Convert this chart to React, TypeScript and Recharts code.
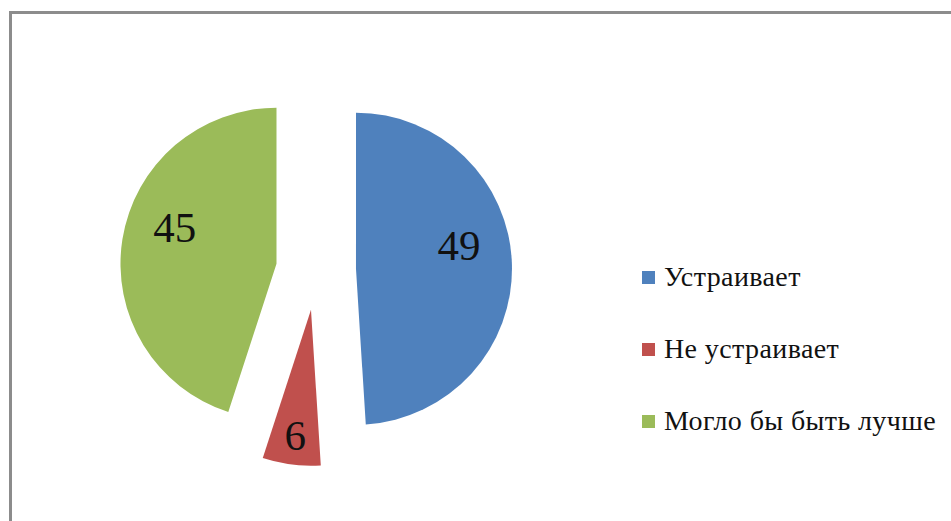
import { PieChart, Pie, Cell, Sector, Legend } from "recharts";

const categories = ["Устраивает", "Не устраивает", "Могло бы быть лучше"];
const values = [49, 6, 45];
const colors = ["#4F81BD", "#C0504D", "#9BBB59"];

const data = categories.map((name, i) => ({ name, value: values[i] }));

const RADIAN = Math.PI / 180;
const EXPLODE = 40;
const SERIF = "Liberation Serif";

function explode(midAngle: number) {
  return {
    dx: EXPLODE * Math.cos(-midAngle * RADIAN),
    dy: EXPLODE * Math.sin(-midAngle * RADIAN),
  };
}

function ExplodedSector(props: any) {
  const { dx, dy } = explode(props.midAngle);
  return <Sector {...props} cx={props.cx + dx} cy={props.cy + dy} />;
}

function renderLabel(props: any) {
  const { cx, cy, midAngle, outerRadius, percent, value } = props;
  const { dx, dy } = explode(midAngle);
  const small = percent < 0.1;
  const r = outerRadius * (small ? 0.8 : 0.66);
  const x = cx + dx + r * Math.cos(-midAngle * RADIAN);
  const y = cy + dy + r * Math.sin(-midAngle * RADIAN) + (small ? 2 : -20);
  return (
    <text
      x={x}
      y={y}
      textAnchor="middle"
      dominantBaseline="central"
      style={{ fontFamily: SERIF, fontSize: 43 }}
      fill="#111"
    >
      {value}
    </text>
  );
}

function LegendContent(props: any) {
  const payload = [...(props.payload || [])].sort(
    (a: any, b: any) => categories.indexOf(a.value) - categories.indexOf(b.value)
  );
  return (
    <div>
      {payload.map((entry: any, i: number) => (
        <div
          key={i}
          style={{ height: 72, display: "flex", alignItems: "center" }}
        >
          <span
            style={{
              display: "inline-block",
              width: 13,
              height: 13,
              background: entry.color,
              marginRight: 9,
            }}
          />
          <span
            style={{
              fontFamily: SERIF,
              fontSize: 28,
              letterSpacing: 0.4,
              color: "#111",
            }}
          >
            {entry.value}
          </span>
        </div>
      ))}
    </div>
  );
}

export default function App() {
  return (
    <div
      style={{
        position: "absolute",
        left: 0,
        top: 0,
        width: 951,
        height: 521,
        background: "#fff",
        overflow: "hidden",
      }}
    >
      <div
        style={{
          position: "absolute",
          left: 9,
          top: 11,
          right: -10,
          bottom: -10,
          borderTop: "3px solid #8c8c8c",
          borderLeft: "3px solid #8c8c8c",
        }}
      />
      <PieChart width={951} height={521} margin={{ top: 0, right: 0, bottom: 0, left: 0 }}>
        <Pie
          data={data}
          dataKey="value"
          nameKey="name"
          cx={316}
          cy={270}
          outerRadius={156}
          startAngle={90}
          endAngle={-270}
          stroke="none"
          shape={ExplodedSector}
          activeShape={ExplodedSector}
          inactiveShape={ExplodedSector}
          label={renderLabel}
          labelLine={false}
          isAnimationActive={false}
        >
          {data.map((d, i) => (
            <Cell key={d.name} fill={colors[i]} />
          ))}
        </Pie>
        <Legend
          layout="vertical"
          itemSorter={null as any}
          content={<LegendContent />}
          wrapperStyle={{ left: 642, top: 241, width: 309 }}
        />
      </PieChart>
    </div>
  );
}
